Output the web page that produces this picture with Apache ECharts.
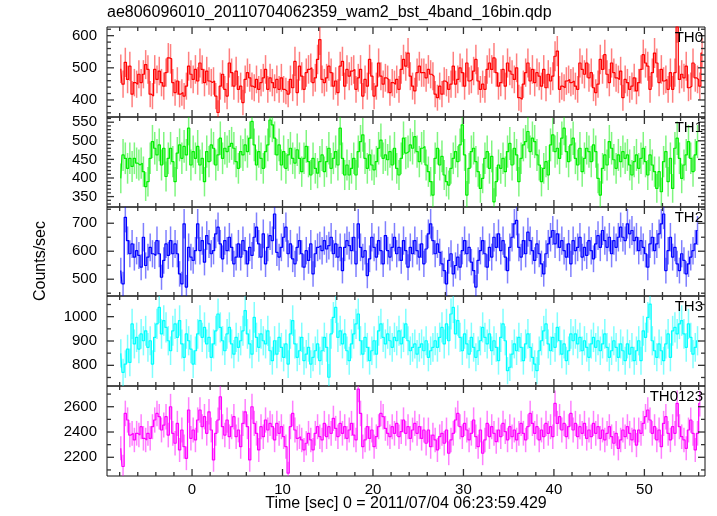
<!DOCTYPE html>
<html><head><meta charset="utf-8">
<script src="https://cdn.jsdelivr.net/npm/echarts@6/dist/echarts.min.js"></script>
<style>html,body{margin:0;padding:0;background:#fff}#c{width:717px;height:516px}</style>
</head><body><div id="c"></div>
<script>
const chartTitle = 'ae806096010_20110704062359_wam2_bst_4band_16bin.qdp';
const xTitle = 'Time [sec] 0 = 2011/07/04 06:23:59.429';
const yTitle = 'Counts/sec';
const t0 = -7.875, binWidth = 0.25;
const xMajorTicks = [0, 10, 20, 30, 40, 50];
const xMinorTicks = [-8, -6, -4, -2, 2, 4, 6, 8, 12, 14, 16, 18, 22, 24, 26, 28, 32, 34, 36, 38, 42, 44, 46, 48, 52, 54, 56];
const bandNames = ['TH0', 'TH1', 'TH2', 'TH3', 'TH0123'];
const yLabelTicks = [[400, 500, 600], [350, 400, 450, 500, 550], [500, 600, 700], [800, 900, 1000], [2200, 2400, 2600]];
const yMinorTicks = [[360, 380, 420, 440, 460, 480, 520, 540, 560, 580, 620], [330, 340, 360, 370, 380, 390, 410, 420, 430, 440, 460, 470, 480, 490, 510, 520, 530, 540, 560], [450, 550, 650, 750], [750, 850, 950, 1050], [2100, 2300, 2500, 2700]];
const yRanges = [[347, 627], [322, 564], [440, 758], [715, 1085], [2052, 2764]];

const TH0 = [497,449,517,464,505,418,454,449,480,454,480,510,495,418,412,495,464,490,454,443,485,531,528,454,423,459,418,423,412,443,505,480,464,495,459,515,495,454,490,459,454,459,412,361,443,480,433,412,515,485,443,490,433,443,392,464,485,469,443,438,464,433,454,469,495,433,469,454,438,464,433,469,433,428,418,464,438,520,423,505,474,433,485,495,
500,454,469,526,588,464,454,469,505,485,443,459,423,505,520,443,495,474,490,495,433,469,495,412,464,443,526,474,412,443,515,474,449,469,464,423,454,449,464,433,495,526,505,546,474,443,428,485,505,485,485,469,495,480,474,418,407,443,418,459,454,433,449,505,449,464,500,485,443,515,459,464,490,526,459,433,449,433,495,515,495,531,485,443,454,495,443,515,490,480,
464,500,407,402,449,485,515,459,495,454,485,474,443,495,438,480,459,474,536,552,433,443,438,459,464,454,459,443,433,515,495,480,515,469,485,438,423,449,526,495,541,480,454,515,485,469,464,490,407,464,454,433,443,469,428,454,495,541,515,505,433,485,546,515,454,495,459,464,433,485,433,485,628,464,480,469,505,438,443,515,469,464,443,546];
const TH1 = [399,462,453,426,453,431,453,440,435,440,417,377,390,453,498,480,462,489,435,480,404,453,480,444,390,467,489,453,485,462,534,435,471,453,485,435,453,390,471,444,489,480,435,462,507,453,480,471,485,493,480,444,426,471,462,489,471,507,552,489,435,471,453,426,471,489,556,543,507,462,489,435,471,426,462,480,453,440,476,453,417,453,485,444,408,453,426,413,444,462,417,444,480,426,453,471,435,534,453,408,435,408,426,453,408,471,498,516,453,426,462,435,422,444,480,502,453,462,449,471,435,480,426,408,453,507,467,471,489,480,511,471,444,480,485,435,417,390,354,453,480,435,458,408,390,381,426,453,471,444,489,543,462,354,426,471,480,444,417,372,399,453,471,426,458,336,390,435,426,453,417,471,493,435,480,462,390,453,489,498,525,471,507,498,462,435,390,426,444,408,489,516,471,480,453,507,534,471,444,489,507,453,435,480,417,453,480,471,444,489,471,399,354,426,462,435,498,480,449,426,462,444,471,453,462,435,408,444,462,426,453,480,444,408,462,435,417,372,417,363,444,471,390,453,372,480,507,453,399,435,462,498,453,417,462,498];
const TH2 = [531,483,721,638,591,626,579,602,585,543,650,549,579,614,591,585,638,591,507,567,626,585,638,591,626,591,519,483,698,472,614,579,567,602,698,602,638,561,656,626,591,602,662,686,626,573,638,602,650,614,555,579,626,579,638,602,555,614,585,650,686,626,579,662,555,614,656,638,733,596,579,614,650,686,591,626,573,555,614,638,591,543,602,567,626,519,591,614,620,602,638,608,620,650,591,626,579,614,531,614,638,620,602,650,555,698,614,579,602,513,573,650,614,579,638,602,555,656,602,579,614,650,591,614,567,638,602,543,614,591,638,602,579,626,555,608,662,698,638,591,626,596,555,531,483,567,591,519,549,579,543,602,638,591,614,561,531,472,567,602,638,591,543,614,579,650,614,662,602,638,579,531,614,650,698,710,614,579,638,591,668,638,602,567,626,591,555,519,591,626,650,674,626,662,614,638,602,579,626,555,638,602,614,650,579,614,585,638,602,573,626,656,614,674,638,614,650,591,638,614,650,686,650,638,698,662,674,638,650,602,638,614,591,543,626,650,602,626,662,698,733,531,602,650,579,614,555,531,591,567,519,555,579,602,626,674];
const TH3 = [849,771,805,867,812,970,888,915,867,929,901,942,874,901,805,915,970,1038,929,984,956,901,860,942,970,915,984,888,833,929,901,867,805,860,929,984,915,956,888,915,833,888,942,1011,956,901,860,929,956,888,846,915,874,901,942,1025,929,888,846,997,915,874,929,901,888,942,860,819,901,846,915,874,833,888,805,929,984,888,833,860,915,819,846,874,805,833,860,888,819,860,915,874,751,929,997,1038,915,942,888,929,860,819,888,929,970,1011,901,846,915,874,819,860,901,846,942,970,915,888,929,901,874,915,901,942,888,915,970,901,860,874,888,846,874,888,860,901,833,860,874,901,874,915,956,888,970,901,1011,1038,929,984,915,860,929,888,846,915,874,833,860,901,956,915,888,929,860,901,874,819,915,970,901,778,792,846,888,860,915,874,819,888,929,874,833,805,778,860,901,942,970,888,860,915,874,956,901,846,888,819,860,929,901,929,888,915,860,901,874,833,888,915,874,901,860,888,929,874,833,860,901,874,833,888,860,819,888,846,874,819,860,901,819,942,915,997,1052,901,860,833,888,860,819,888,929,833,942,956,929,970,984,929,874,970,915,846,874,901];
const TH0123 = [2271,2127,2547,2495,2376,2390,2337,2390,2376,2442,2350,2337,2390,2350,2442,2495,2547,2521,2416,2455,2521,2376,2600,2390,2311,2468,2258,2416,2284,2192,2574,2350,2416,2337,2495,2574,2442,2521,2390,2560,2416,2179,2390,2495,2679,2442,2376,2495,2363,2442,2521,2363,2416,2284,2468,2560,2442,2179,2600,2468,2390,2258,2442,2363,2495,2416,2468,2442,2337,2468,2390,2442,2363,2284,2074,2442,2547,2416,2350,2363,2337,2258,2311,2390,2337,2258,2390,2442,2363,2337,2468,2363,2442,2390,2508,2429,2363,2468,2390,2442,2350,2416,2468,2376,2337,2740,2547,2284,2337,2442,2350,2416,2284,2363,2442,2547,2521,2429,2390,2363,2442,2390,2468,2363,2403,2495,2390,2442,2350,2416,2468,2390,2442,2350,2416,2311,2416,2284,2376,2337,2258,2363,2390,2311,2416,2232,2337,2390,2495,2547,2442,2363,2468,2416,2337,2390,2495,2363,2284,2416,2232,2337,2468,2363,2442,2390,2324,2416,2363,2468,2403,2337,2442,2363,2416,2337,2390,2468,2390,2337,2442,2547,2468,2390,2442,2337,2416,2363,2468,2390,2442,2363,2626,2468,2521,2416,2468,2363,2442,2547,2416,2468,2363,2442,2390,2468,2350,2416,2363,2468,2390,2442,2350,2416,2337,2390,2442,2363,2311,2390,2271,2337,2416,2363,2442,2390,2337,2416,2297,2416,2390,2468,2521,2574,2495,2390,2442,2337,2416,2284,2468,2521,2390,2337,2442,2390,2626,2442,2363,2337,2271,2416,2495,2390,2258,2390,2626];

const bandData = [TH0, TH1, TH2, TH3, TH0123];
const bandColors = ['#ff0000', '#00ee00', '#0000ff', '#00ffff', '#ff00ff'];
const gridTops = [27, 117, 207, 296, 386];
const gridHeights = [90, 90, 89, 90, 90];
const FONT = "'Liberation Sans', Arial, Helvetica, sans-serif";
const xMin = -9.4, xMax = 56.7;
const MAJOR_LEN = 7, MINOR_LEN = 4;

const grids = [], xAxes = [], yAxes = [], series = [], graphics = [];
const plainFmt = v => String(v);

bandData.forEach((vals, i) => {
  grids.push({left: 107, right: 12, top: gridTops[i], height: gridHeights[i], show: true, borderColor: '#111', borderWidth: 1, backgroundColor: 'rgba(0,0,0,0)'});
  xAxes.push({gridIndex: i, type: 'value', min: xMin, max: xMax, position: 'bottom',
    axisLine: {show: false, onZero: false}, axisTick: {show: false}, splitLine: {show: false},
    axisLabel: i === 4 ? {show: true, customValues: xMajorTicks, formatter: plainFmt, margin: 6, fontSize: 15, color: '#000', fontFamily: FONT} : {show: false}});
  yAxes.push({gridIndex: i, type: 'value', min: yRanges[i][0], max: yRanges[i][1], position: 'left',
    axisLine: {show: false, onZero: false}, axisTick: {show: false}, splitLine: {show: false},
    axisLabel: {show: true, customValues: yLabelTicks[i], formatter: plainFmt, margin: 10, fontSize: 15, color: '#000', fontFamily: FONT}});
  const color = bandColors[i];
  const pts = vals.map((v, k) => [t0 + k * binWidth, v, Math.sqrt(v / binWidth)]);
  series.push({
    type: 'custom', xAxisIndex: i, yAxisIndex: i, clip: true, data: pts, z: 1, silent: true,
    renderItem: (params, api) => {
      const x = api.value(0), v = api.value(1), e = api.value(2);
      const a = api.coord([x, v - e]), b = api.coord([x, v + e]);
      return {type: 'line', shape: {x1: a[0], y1: a[1], x2: b[0], y2: b[1]},
        style: {stroke: color, lineWidth: 1.5, opacity: 0.5}};
    }
  });
  series.push({
    type: 'line', xAxisIndex: i, yAxisIndex: i, step: 'middle', showSymbol: false, clip: true, z: 1, silent: true,
    data: pts.map(p => [p[0], p[1]]), lineStyle: {color: color, width: 1.2}, itemStyle: {color: color}
  });
  // axis tick marks on all four sides, placed through the panel's own scales
  const tickItems = [];
  xMajorTicks.forEach(v => tickItems.push([0, v, MAJOR_LEN]));
  xMinorTicks.forEach(v => tickItems.push([0, v, MINOR_LEN]));
  yLabelTicks[i].forEach(v => tickItems.push([1, v, MAJOR_LEN]));
  yMinorTicks[i].forEach(v => tickItems.push([1, v, MINOR_LEN]));
  const yLo = yRanges[i][0], yHi = yRanges[i][1];
  series.push({
    type: 'custom', xAxisIndex: i, yAxisIndex: i, clip: false, z: 5, silent: true,
    data: tickItems.map((d, k) => [0, yLo, k]),
    renderItem: (params, api) => {
      const d = tickItems[params.dataIndex];
      const style = {stroke: '#333', lineWidth: 1.3};
      if (d[0] === 0) {
        const b = api.coord([d[1], yLo]), t = api.coord([d[1], yHi]);
        return {type: 'group', children: [
          {type: 'line', shape: {x1: b[0], y1: b[1], x2: b[0], y2: b[1] - d[2]}, style: style},
          {type: 'line', shape: {x1: t[0], y1: t[1], x2: t[0], y2: t[1] + d[2]}, style: style}]};
      }
      const l = api.coord([xMin, d[1]]), r = api.coord([xMax, d[1]]);
      return {type: 'group', children: [
        {type: 'line', shape: {x1: l[0], y1: l[1], x2: l[0] + d[2], y2: l[1]}, style: style},
        {type: 'line', shape: {x1: r[0], y1: r[1], x2: r[0] - d[2], y2: r[1]}, style: style}]};
    }
  });
  graphics.push({type: 'text', right: 14, top: gridTops[i] + 3, z: 10,
    style: {text: bandNames[i], font: '15px ' + FONT, fill: '#000'}});
});
graphics.push({type: 'text', left: 107, top: 5, style: {text: chartTitle, font: '16px ' + FONT, fill: '#000'}});
graphics.push({type: 'text', x: 406, y: 504, style: {text: xTitle, font: '16px ' + FONT, fill: '#000', align: 'center', verticalAlign: 'middle'}});
graphics.push({type: 'text', x: 41, y: 261, rotation: Math.PI / 2, style: {text: yTitle, font: '16px ' + FONT, fill: '#000', align: 'center', verticalAlign: 'middle'}});

const chart = echarts.init(document.getElementById('c'));
chart.setOption({animation: false, grid: grids, xAxis: xAxes, yAxis: yAxes, series: series, graphic: graphics});
</script></body></html>
